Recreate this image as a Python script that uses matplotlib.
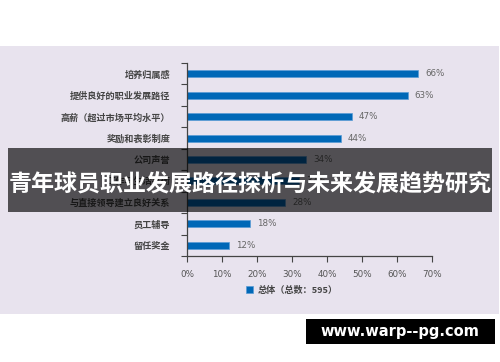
import matplotlib
matplotlib.use("Agg")
import matplotlib.pyplot as plt
from matplotlib.patches import Rectangle

plt.rcParams['font.family'] = ['Noto Sans CJK SC', 'DejaVu Sans']

# data
categories = ['培养归属感', '提供良好的职业发展路径', '高薪（超过市场平均水平）', '奖励和表彰制度',
              '公司声誉', '工作与生活平衡', '与直接领导建立良好关系', '员工辅导', '留任奖金']
values = [66, 63, 47, 44, 34, 32, 28, 18, 12]
xticks = [0, 10, 20, 30, 40, 50, 60, 70]
series_name = '总体（总数：595）'
title = '青年球员职业发展路径探析与未来发展趋势研究'
watermark = 'www.warp--pg.com'

W, H = 500, 362
fig = plt.figure(figsize=(W / 100, H / 100), dpi=100)
fig.patch.set_facecolor('white')

# lavender panel behind the chart
fig.patches.append(Rectangle((0, 1 - 314 / H), 499 / W, (314 - 46) / H, transform=fig.transFigure,
                             facecolor='#e8e3ee', edgecolor='none', zorder=-1))

ax = fig.add_axes([187 / W, 1 - 256 / H, 245 / W, (256 - 63) / H])
ax.set_facecolor('none')

ypos = list(range(len(categories)))
ax.barh(ypos, values, height=0.33, color='#0068b7', edgecolor='#5a9bd5', linewidth=0.5,
        label=series_name)
for y, v in zip(ypos, values):
    ax.text(v + 2, y, f'{v}%', va='center', ha='left', fontsize=6.3, color='#666666',
            family='DejaVu Sans')

ax.set_ylim(len(categories) - 0.5, -0.5)
ax.set_xlim(0, 70)
ax.set_xticks(xticks)
ax.set_xticklabels([f'{t}%' for t in xticks], fontsize=6.3, color='#555555', family='DejaVu Sans')
ax.set_yticks(ypos)
ax.set_yticklabels(categories, fontsize=6.6, color='#444444', fontweight='bold')
ax.set_yticks([i - 0.5 for i in range(len(categories) + 1)], minor=True)
ax.tick_params(axis='y', which='major', length=0, pad=12)
ax.tick_params(axis='y', which='minor', length=4, width=0.8, color='#444444')
ax.tick_params(axis='x', length=4, width=0.8, color='#444444', pad=6)
for s in ['top', 'right']:
    ax.spines[s].set_visible(False)
for s in ['left', 'bottom']:
    ax.spines[s].set_color('#444444')
    ax.spines[s].set_linewidth(0.9)

ax.legend(loc='center left', bbox_to_anchor=(238 / W, 1 - 290 / H), bbox_transform=fig.transFigure,
          frameon=False, handlelength=0.7, handleheight=0.7, handletextpad=0.6,
          labelcolor='#444444', prop={'weight': 'bold', 'size': 6.6})

# dark title banner over the chart
fig.patches.append(Rectangle((8 / W, 1 - 212 / H), 484 / W, 64 / H, transform=fig.transFigure,
                             facecolor='black', alpha=0.65, edgecolor='none', zorder=5))
fig.text(0.5, 1 - 185 / H, title, ha='center', va='center', color='white', fontsize=16.6,
         fontweight='bold', zorder=6)

# watermark box
fig.patches.append(Rectangle((306 / W, 1 - 344 / H), 189 / W, 25 / H, transform=fig.transFigure,
                             facecolor='black', edgecolor='none', zorder=5))
fig.text(400 / W, 1 - 331.5 / H, watermark, ha='center', va='center', color='white', fontsize=10.5,
         fontweight='bold', family='DejaVu Sans', zorder=6)

fig.savefig('out.png', dpi=100)
